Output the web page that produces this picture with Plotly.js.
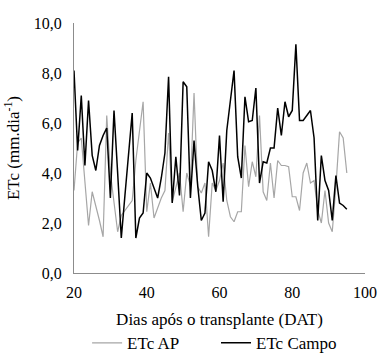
<!DOCTYPE html>
<html>
<head>
<meta charset="utf-8">
<script src="https://cdn.plot.ly/plotly-3.0.1.min.js"></script>
<style>html,body{margin:0;padding:0;background:#fff;}#chart{width:389px;height:361px;}</style>
</head>
<body>
<div id="chart"></div>
<script>
const days = [20,21,22,23,24,25,26,27,28,29,30,31,32,33,34,35,36,37,38,39,40,41,42,43,44,45,46,47,48,49,50,51,52,53,54,55,56,57,58,59,60,61,62,63,64,65,66,67,68,69,70,71,72,73,74,75,76,77,78,79,80,81,82,83,84,85,86,87,88,89,90,91,92,93,94,95];
const etcAP = [3.3,5.2,5.4,3.8,1.9,3.25,2.7,2.1,1.45,6.3,4.0,2.8,1.65,2.3,2.5,2.7,2.9,4.5,5.6,6.85,2.45,3.6,2.2,2.6,3.0,3.3,5.6,2.85,3.4,4.0,2.45,4.0,3.5,7.2,3.45,3.2,3.6,1.45,3.6,3.3,3.7,4.4,2.9,2.25,2.05,2.45,2.45,5.1,3.45,4.45,3.85,6.3,3.25,2.9,4.4,3.0,4.5,4.3,4.3,4.25,3.05,3.05,2.5,4.0,4.4,3.6,3.7,2.5,2.0,3.3,2.0,1.65,3.45,5.65,5.4,4.0];
const etcCampo = [8.1,4.9,7.1,4.3,6.9,4.7,4.1,5.1,5.5,5.8,3.0,6.5,4.0,1.4,3.1,4.7,6.4,1.4,2.2,2.4,4.0,3.8,3.4,3.0,3.8,4.8,7.85,2.8,4.65,3.1,7.65,7.45,3.0,5.3,3.5,2.1,2.4,4.45,4.1,3.25,5.5,2.85,5.7,6.9,8.1,4.65,3.8,7.05,6.05,6.1,7.4,3.6,4.45,4.4,5.0,5.0,6.6,5.5,6.85,6.25,6.5,9.15,6.1,6.1,6.3,6.5,5.4,2.1,4.7,3.7,3.3,2.1,3.9,2.8,2.7,2.55];
const seriesNames = ["ETc AP", "ETc Campo"];
const xTitle = "Dias após o transplante (DAT)";
const yTitle = "ETc (mm.dia<sup>-1</sup>)";

const font = "'Liberation Serif', 'Times New Roman', serif";
const data = [
  {x: days, y: etcAP, type: 'scatter', mode: 'lines', name: seriesNames[0], legend: 'legend',
   line: {color: '#a6a6a6', width: 1.2}},
  {x: days, y: etcCampo, type: 'scatter', mode: 'lines', name: seriesNames[1], legend: 'legend2',
   line: {color: '#000000', width: 1.5}}
];
const legFont = {family: font, size: 17, color: '#000'};
const layout = {
  width: 389, height: 361,
  margin: {l: 74, r: 24, t: 23, b: 88, autoexpand: false},
  paper_bgcolor: '#fff', plot_bgcolor: '#fff',
  separators: ',.',
  font: {family: font, size: 16, color: '#000'},
  showlegend: true,
  legend: {x: 0.045, xanchor: 'left', y: -0.281, yanchor: 'middle', font: legFont, itemwidth: 30, bgcolor: 'rgba(0,0,0,0)'},
  legend2: {x: 0.488, xanchor: 'left', y: -0.281, yanchor: 'middle', font: legFont, itemwidth: 30, bgcolor: 'rgba(0,0,0,0)'},
  xaxis: {range: [20, 100], tickvals: [20,40,60,80,100], showgrid: false, zeroline: false,
          showline: true, linecolor: '#8c8c8c', linewidth: 1, ticks: '', ticklabelstandoff: 5,
          title: {text: xTitle, font: {family: font, size: 17}, standoff: 12}},
  yaxis: {range: [0, 10], tickvals: [0,2,4,6,8,10], tickformat: '.1f', showgrid: false, zeroline: false,
          showline: true, linecolor: '#8c8c8c', linewidth: 1, ticks: '', ticklabelstandoff: 8,
          title: {text: yTitle, font: {family: font, size: 17}, standoff: 9}}
};
Plotly.newPlot('chart', data, layout, {displayModeBar: false, staticPlot: true});
</script>
</body>
</html>
